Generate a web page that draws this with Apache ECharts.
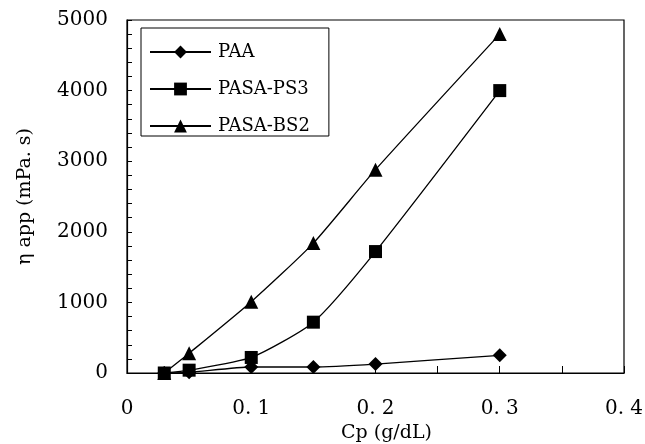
<!DOCTYPE html>
<html>
<head>
<meta charset="utf-8">
<script src="https://cdn.jsdelivr.net/npm/echarts@6/dist/echarts.min.js"></script>
<style>
  html, body { margin: 0; padding: 0; background: #fff; }
  #chart { width: 645px; height: 444px; }
</style>
</head>
<body>
<div id="chart"></div>
<script>
// 数据
var cp = [0.03, 0.05, 0.1, 0.15, 0.2, 0.3];
var paa = [0, 10, 85, 85, 127, 250];
var pasaPS3 = [0, 40, 220, 720, 1720, 4000];
var pasaBS2 = [0, 280, 1010, 1840, 2880, 4800];
var seriesNames = ['PAA', 'PASA-PS3', 'PASA-BS2'];
var xTickLabels = { 0: '0', 0.1: '0. 1', 0.2: '0. 2', 0.3: '0. 3', 0.4: '0. 4' };

var fontFamily = '"DejaVu Serif", "Liberation Serif", serif';

function pairs(values) {
    return cp.map(function (x, i) { return [x, values[i]]; });
}

function makeSeries(name, values, symbol, size) {
    return {
        name: name,
        type: 'line',
        data: pairs(values),
        smooth: 0.2,
        symbol: symbol,
        symbolSize: size,
        lineStyle: { color: '#000', width: 1.3 },
        itemStyle: { color: '#000' },
        emphasis: { disabled: true }
    };
}

var myChart = echarts.init(document.getElementById('chart'));
myChart.setOption({
    animation: false,
    backgroundColor: '#fff',
    textStyle: { fontFamily: fontFamily, color: '#000' },
    grid: {
        left: 127, right: 21, top: 20, bottom: 71,
        outerBoundsMode: 'none',
        containLabel: false,
        show: true, borderColor: '#000', borderWidth: 1.2, backgroundColor: 'transparent'
    },
    legend: {
        orient: 'vertical',
        left: 141, top: 28,
        padding: [14, 19, 0, 8],
        itemGap: 17,
        itemWidth: 61,
        itemHeight: 16,
        borderColor: '#000',
        borderWidth: 1,
        data: seriesNames,
        textStyle: { fontSize: 18, lineHeight: 20, fontFamily: fontFamily, color: '#000', padding: [0, 0, 0, 2] }
    },
    xAxis: {
        type: 'value',
        min: 0, max: 0.4, interval: 0.1,
        name: 'Cp (g/dL)',
        nameLocation: 'middle',
        nameGap: 50,
        nameTextStyle: { fontSize: 19, fontFamily: fontFamily, color: '#000', padding: [0, 0, 0, 22] },
        axisLine: { onZero: false, lineStyle: { color: '#000', width: 1.2 } },
        axisTick: { inside: true, length: 7, lineStyle: { color: '#000' } },
        minorTick: { show: true, splitNumber: 2, length: 7, lineStyle: { color: '#000' } },
        splitLine: { show: false },
        axisLabel: {
            margin: 26, fontSize: 20, color: '#000',
            formatter: function (v) { return xTickLabels[Math.round(v * 10) / 10]; }
        }
    },
    yAxis: {
        type: 'value',
        min: 0, max: 5000, interval: 1000,
        name: 'η app (mPa. s)',
        nameLocation: 'middle',
        nameGap: 92,
        nameRotate: 90,
        nameTextStyle: { fontSize: 19, fontFamily: fontFamily, color: '#000' },
        axisLine: { lineStyle: { color: '#000', width: 1.2 } },
        axisTick: { inside: true, length: 5, lineStyle: { color: '#000' } },
        minorTick: { show: true, splitNumber: 5, length: 5, lineStyle: { color: '#000' } },
        splitLine: { show: false },
        axisLabel: {
            margin: 19, fontSize: 20, color: '#000',
            formatter: function (v) { return String(v); }
        }
    },
    series: [
        makeSeries('PAA', paa, 'diamond', 14),
        makeSeries('PASA-PS3', pasaPS3, 'rect', 13),
        makeSeries('PASA-BS2', pasaBS2, 'triangle', 14)
    ]
});
</script>
</body>
</html>
